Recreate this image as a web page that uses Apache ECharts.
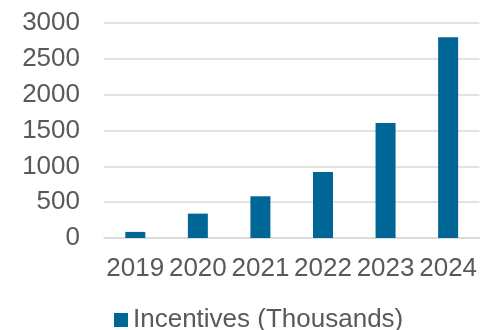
<!DOCTYPE html>
<html><head><meta charset="utf-8">
<script src="https://cdn.jsdelivr.net/npm/echarts@6/dist/echarts.min.js"></script>
<style>html,body{margin:0;padding:0;background:#fff}#c{width:480px;height:330px}</style>
</head><body><div id="c"></div>
<script>
var categories = ['2019','2020','2021','2022','2023','2024'];
var incentives = [85, 340, 582, 922, 1605, 2800];
var seriesName = 'Incentives (Thousands)';
var chart = echarts.init(document.getElementById('c'), null, {renderer:'canvas'});
chart.setOption({
  animation:false,
  textStyle:{fontFamily:'Liberation Sans, Arial, sans-serif'},
  grid:{left:104, right:0, top:23, bottom:92, containLabel:false},
  legend:{
    data:[seriesName], top:307, left:114, itemWidth:14, itemHeight:14, itemGap:6,
    icon:'rect', padding:0,
    textStyle:{fontSize:26, color:'#595959', fontFamily:'Liberation Sans, Arial, sans-serif'}
  },
  xAxis:{
    type:'category', data:categories,
    axisLine:{show:true, lineStyle:{color:'#d9d9d9', width:1.5}},
    axisTick:{show:false},
    axisLabel:{fontSize:26, color:'#595959', margin:18, interval:0}
  },
  yAxis:{
    type:'value', min:0, max:3000, interval:500,
    axisLine:{show:false}, axisTick:{show:false},
    splitLine:{lineStyle:{color:'#d9d9d9', width:1.5}},
    axisLabel:{fontSize:26, color:'#595959', margin:24, formatter:function(v){return String(v);}}
  },
  series:[{
    name:seriesName, type:'bar', data:incentives, barWidth:20,
    itemStyle:{color:'#006695'}
  }]
});
</script></body></html>
